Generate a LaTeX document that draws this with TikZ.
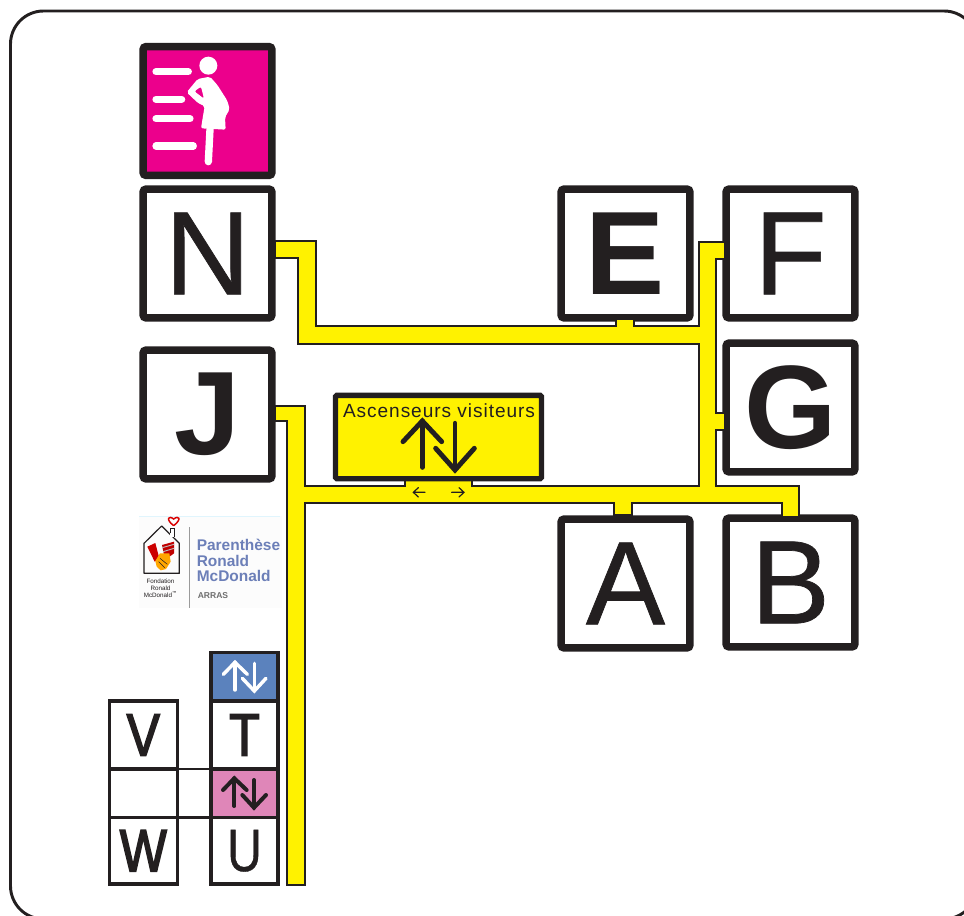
\documentclass[tikz,border=0pt]{standalone}
\usepackage{fontspec}
\setmainfont{Liberation Sans}
\newfontfamily\bigfont[FakeBold=0.6]{Liberation Sans}
\newfontfamily\smallmed[FakeBold=2.6,FakeStretch=0.83]{Liberation Sans}
\newfontfamily\smallreg[FakeBold=0.6,FakeStretch=0.8]{Liberation Sans}
\definecolor{ink}{HTML}{231F20}
\definecolor{signyellow}{HTML}{FFF200}
\definecolor{magentabox}{HTML}{EC008C}
\definecolor{liftblue}{HTML}{5B82BD}
\definecolor{liftpink}{HTML}{DF86B8}
\definecolor{logoblue}{HTML}{6C7FB8}
\definecolor{logogrey}{HTML}{6E6E6E}
\tikzset{
  bigbox/.style={draw=ink,fill=white,line width=5.6pt,rounded corners=2pt,minimum width=96.5pt,minimum height=96.5pt,inner sep=0pt,text=ink},
  smallbox/.style={draw=ink,fill=white,line width=2.6pt,inner sep=0pt,text=ink},
  bigreg/.style={font=\bigfont\fontsize{89}{89}\selectfont},
  bigbold/.style={font=\fontsize{89}{89}\selectfont\bfseries},
  smalltxt/.style={font=\smallreg\fontsize{45}{45}\selectfont},
  smallbold/.style={font=\smallmed\fontsize{45}{45}\selectfont},
  liftarrow/.style={line width=#1,line cap=round,line join=miter},
  whitebar/.style={draw=white,line width=5.4pt,line cap=round},
  logotxt/.style={font=\fontsize{11.6}{11.6}\selectfont\bfseries,text=logoblue,align=left,anchor=north west,inner sep=0pt},
}
\begin{document}
\begin{tikzpicture}[x=0.75pt,y=-0.75pt]
\useasboundingbox (0,0) rectangle (964,916);
% outer frame
\draw[ink,line width=2.2pt,rounded corners=24.75pt] (10.5,11) rectangle (977,919);
% maternity sign
\node[bigbox,fill=magentabox] (mat) at (207.5,111) {};
\begin{scope}[shift={(130,30)},x=0.25pt,y=-0.25pt]
  \fill[white] (235,107) circle (27);
  \draw[whitebar] (78,125) -- (175,125);
  \draw[whitebar] (78,208) -- (155,208);
  \draw[whitebar] (78,266) -- (180,266);
  \draw[whitebar] (78,348) -- (190,348);
  \fill[white,even odd rule,rounded corners=1.5pt]
    (203,147) -- (240,140) -- (262,165) -- (292,212) -- (299,238) -- (285,262) -- (287,299)
    -- (213,295) -- (224,228) -- (205,220) -- (170,187) -- cycle
    (193,184) -- (213,170) -- (222,206) -- cycle;
  \draw[white,line width=5.5pt,line cap=round] (240,298) -- (235,395);
\end{scope}
% large boxes
\node[bigbox,bigreg] (N) at (207.5,253.5) {N};
\node[bigbox,bigbold] (J) at (207.5,414.5) {J};
\node[bigbox,bigbold] (E) at (625.5,253.5) {E};
\node[bigbox,bigreg] (F) at (790.5,253.5) {F};
\node[bigbox,bigbold] (G) at (790.5,407.5) {G};
\node[bigbox,bigreg] (A) at (625.5,583.5) {A};
\node[bigbox,bigreg] (B) at (790.5,582.5) {B};
% yellow corridors
\draw[ink,fill=signyellow,line width=1.2pt,miter limit=4]
 (275,241) -- (316,241) -- (316,326) -- (616,326) -- (616,319) -- (634,319) -- (634,326)
 -- (699,326) -- (699,242) -- (725,242) -- (725,259) -- (716,259) -- (716,413) -- (725,413)
 -- (725,430) -- (716,430) -- (716,486) -- (799,486) -- (799,517) -- (782,517) -- (782,503)
 -- (632,503) -- (632,515) -- (614,515) -- (614,503) -- (305,503) -- (305,885) -- (287,885)
 -- (287,421) -- (275,421) -- (275,406) -- (305,406) -- (305,486) -- (405,486) -- (405,478)
 -- (472,478) -- (472,486) -- (699,486) -- (699,344) -- (298,344) -- (298,258) -- (275,258) -- cycle;
% visitor lifts
\node[draw=ink,fill=signyellow,line width=4pt,rounded corners=1pt,minimum width=154.5pt,minimum height=62.5pt,inner sep=0pt] (lift) at (438.5,437) {};
\node[text=ink,inner sep=0pt,font=\fontsize{14.3}{14.3}\selectfont\addfontfeatures{LetterSpace=5}] (liftlabel) at (439,411) {Ascenseurs visiteurs};
\begin{scope}[shift={(325,385)},x=0.25pt,y=-0.25pt]
  \draw[ink,liftarrow=3.7pt] (292,247) -- (292,108);
  \draw[ink,liftarrow=3.7pt] (234,170) -- (292,108) -- (350,170);
  \draw[ink,liftarrow=3.7pt] (390,115) -- (390,255);
  \draw[ink,liftarrow=3.7pt] (332,190) -- (390,255) -- (448,190);
  \draw[ink,line width=0.9pt,line cap=round] (265,322) -- (300,322) (280,308) -- (265,322) -- (280,336);
  \draw[ink,line width=0.9pt,line cap=round] (380,322) -- (417,322) (402,308) -- (417,322) -- (402,336);
\end{scope}
% connecting lines of the small block
\coordinate (linkA) at (177,769);
\coordinate (linkB) at (177,817.7);
\draw[ink,line width=2pt] (linkA) -- (211,769);
\draw[ink,line width=2pt] (linkB) -- (211,817.7);
% small block right column
\node[smallbox,fill=liftblue,minimum width=50.3pt,minimum height=36.2pt] (bluelift) at (244.5,676.8) {};
\node[smallbox,smallbold,minimum width=50.3pt,minimum height=51pt] (T) at (244.5,735) {T};
\node[smallbox,fill=liftpink,minimum width=50.3pt,minimum height=36.5pt] (pinklift) at (244.5,793.3) {};
\node[smallbox,smalltxt,minimum width=50.3pt,minimum height=49.7pt] (U) at (244.5,850.8) {U};
% small block left column
\node[smallbox,smallbold,minimum width=51pt,minimum height=51pt] (V) at (143.3,735) {V};
\node[smallbox,minimum width=51pt,minimum height=36.5pt] (blank) at (143.3,793.3) {};
\node[smallbox,smallbold,minimum width=51pt,minimum height=49.7pt] (W) at (143.3,850.8) {W};
\begin{scope}[shift={(100,645)},x=0.25pt,y=-0.25pt]
  \draw[white,liftarrow=2.6pt] (405,135) -- (405,52);
  \draw[white,liftarrow=2.6pt] (370,88) -- (405,52) -- (442,88);
  \draw[white,liftarrow=2.6pt] (463,55) -- (463,138);
  \draw[white,liftarrow=2.6pt] (427,100) -- (463,138) -- (498,100);
  \draw[ink,liftarrow=3pt] (403,483) -- (403,400);
  \draw[ink,liftarrow=3pt] (369,435) -- (403,400) -- (440,435);
  \draw[ink,liftarrow=3pt] (462,405) -- (462,488);
  \draw[ink,liftarrow=3pt] (427,450) -- (462,488) -- (498,450);
\end{scope}
% logo
\fill[black!1] (139,516) rectangle (282,608);
\draw[cyan!12,line width=0.4pt] (139,516) -- (280,516);
\draw[logogrey!70,line width=0.6pt] (189,527) -- (189,608);
\begin{scope}[shift={(130,505)},x=0.25pt,y=-0.25pt]
  \draw[ink,line width=0.9pt,line join=round] (42,115) -- (95,63) -- (148,115) -- (148,205) -- (42,205) -- cycle;
  \fill[white] (120,70) rectangle (132,97);
  \draw[ink,line width=0.7pt] (120,85) -- (120,70) -- (132,70) -- (132,97);
  \draw[red!85!black,line width=1.1pt] (131,62) .. controls (105,42) and (116,30) .. (131,42) .. controls (146,30) and (157,42) .. (131,62);
  \fill[red!80!black] (52,125) -- (76,114) -- (88,160) -- (74,170) -- cycle;
  \fill[red!75!black] (96,120) -- (132,110) -- (132,145) -- (105,165) -- cycle;
  \draw[white!70!ink,line width=0.7pt] (97,128) -- (132,118) (99,140) -- (132,130);
  \fill[orange!70!yellow] (76,168) -- (90,145) -- (118,145) -- (122,170) -- (108,192) -- (92,196) -- (80,185) -- cycle;
  \draw[ink,line width=0.4pt] (90,160) -- (112,178) (86,170) -- (104,188);
\end{scope}
\node[font=\fontsize{4.7}{5.3}\selectfont,text=ink,align=center,inner sep=0pt] (fondation) at (160.5,588) {Fondation\\Ronald\\McDonald\textsuperscript{™}};
\node[logotxt] (parenthese) at (196.5,539) {Parenthèse\\Ronald\\McDonald};
\node[font=\fontsize{6.4}{6.4}\selectfont\bfseries,text=logogrey,anchor=west,inner sep=0pt] (arras) at (197.5,596) {ARRAS};
\end{tikzpicture}
\end{document}
